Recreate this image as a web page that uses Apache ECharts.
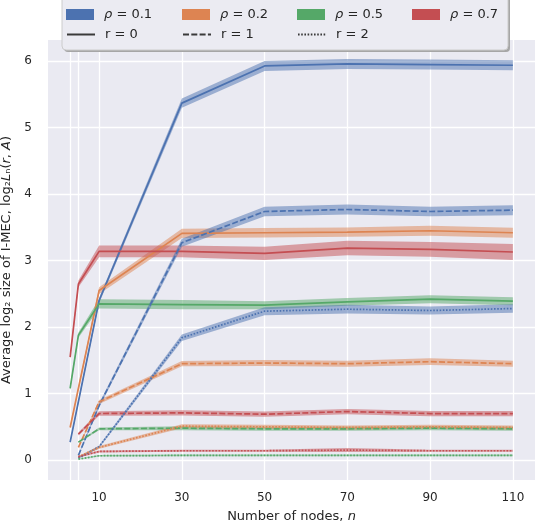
<!DOCTYPE html>
<html><head><meta charset="utf-8">
<script src="https://cdn.jsdelivr.net/npm/echarts@6/dist/echarts.min.js"></script>
<style>html,body{margin:0;padding:0;background:#fff}#c{width:536px;height:524px}</style>
</head><body><div id="c"></div>
<script>
// ---- data ----
const nodesR0 = [3, 5, 10, 30, 50, 70, 90, 110];
const nodesR1 = [5, 10, 30, 50, 70, 90, 110];
const nodesR2 = [5, 10, 30, 50, 70, 90, 110];
const xGridTicks = [3, 5, 10, 30, 50, 70, 90, 110];
const xTickLabels = [10, 30, 50, 70, 90, 110];
const yTickLabels = [0, 1, 2, 3, 4, 5, 6];
const rhoNames = ['ρ = 0.1', 'ρ = 0.2', 'ρ = 0.5', 'ρ = 0.7'];
const rNames = ['r = 0', 'r = 1', 'r = 2'];

// mean values (r = 0)
const blueR0 = [0.27, 0.88, 2.40, 5.37, 5.93, 5.96, 5.95, 5.94];
const orangeR0 = [0.49, 1.08, 2.55, 3.41, 3.42, 3.43, 3.45, 3.42];
const greenR0 = [1.08, 1.88, 2.35, 2.34, 2.33, 2.38, 2.42, 2.39];
const redR0 = [1.55, 2.65, 3.14, 3.14, 3.11, 3.19, 3.17, 3.13];
// mean values (r = 1)
const blueR1 = [0.07, 0.82, 3.27, 3.74, 3.77, 3.74, 3.76];
const orangeR1 = [0.19, 0.875, 1.45, 1.46, 1.45, 1.48, 1.45];
const greenR1 = [0.27, 0.47, 0.48, 0.47, 0.47, 0.48, 0.47];
const redR1 = [0.39, 0.70, 0.71, 0.69, 0.73, 0.70, 0.70];
// mean values (r = 2)
const blueR2 = [0.03, 0.20, 1.84, 2.24, 2.27, 2.25, 2.28];
const orangeR2 = [0.05, 0.19, 0.51, 0.50, 0.49, 0.50, 0.49];
const greenR2 = [0.015, 0.065, 0.07, 0.07, 0.07, 0.07, 0.07];
const redR2 = [0.05, 0.13, 0.14, 0.14, 0.15, 0.14, 0.14];

// confidence band half-widths
const blueR0Ci = [0.02, 0.03, 0.04, 0.07, 0.075, 0.075, 0.075, 0.075];
const orangeR0Ci = [0.02, 0.03, 0.05, 0.07, 0.07, 0.07, 0.075, 0.075];
const greenR0Ci = [0.03, 0.04, 0.07, 0.07, 0.06, 0.06, 0.06, 0.06];
const redR0Ci = [0.03, 0.05, 0.09, 0.09, 0.10, 0.11, 0.11, 0.12];
const blueR1Ci = [0.01, 0.03, 0.06, 0.07, 0.075, 0.07, 0.075];
const orangeR1Ci = [0.01, 0.03, 0.04, 0.045, 0.045, 0.05, 0.045];
const greenR1Ci = [0.01, 0.02, 0.03, 0.03, 0.03, 0.03, 0.03];
const redR1Ci = [0.02, 0.035, 0.04, 0.04, 0.04, 0.04, 0.04];
const blueR2Ci = [0.01, 0.02, 0.05, 0.06, 0.065, 0.06, 0.065];
const orangeR2Ci = [0.01, 0.02, 0.03, 0.03, 0.03, 0.03, 0.03];
const greenR2Ci = [0.005, 0.01, 0.012, 0.012, 0.012, 0.012, 0.012];
const redR2Ci = [0.01, 0.015, 0.015, 0.015, 0.03, 0.015, 0.015];

// ---- styling ----
const colors = ['#4C72B0', '#DD8452', '#55A868', '#C44E52'];
const dashTypes = ['solid', [6, 2.3], [1.6, 1.6]];
const FONT = 'DejaVu Sans';
const TXT = '#262626';

const groups = [
  { x: nodesR0, r: 0, lines: [blueR0, orangeR0, greenR0, redR0], ci: [blueR0Ci, orangeR0Ci, greenR0Ci, redR0Ci] },
  { x: nodesR1, r: 1, lines: [blueR1, orangeR1, greenR1, redR1], ci: [blueR1Ci, orangeR1Ci, greenR1Ci, redR1Ci] },
  { x: nodesR2, r: 2, lines: [blueR2, orangeR2, greenR2, redR2], ci: [blueR2Ci, orangeR2Ci, greenR2Ci, redR2Ci] }
];

function bandRenderer(xs, vals, ci, color) {
  return function (params, api) {
    if (params.dataIndex !== 0) return null;
    const upper = xs.map((x, i) => api.coord([x, vals[i] + ci[i]]));
    const lower = xs.map((x, i) => api.coord([x, vals[i] - ci[i]])).reverse();
    return {
      type: 'polygon',
      shape: { points: upper.concat(lower) },
      style: { fill: color, opacity: 0.5 }
    };
  };
}

const series = [];
groups.forEach(g => {
  g.lines.forEach((vals, h) => {
    const ci = g.ci[h];
    series.push({
      type: 'custom', silent: true, z: 1, clip: true,
      data: g.x.map((x, i) => [x, vals[i] - ci[i], vals[i] + ci[i]]),
      encode: { x: 0, y: [1, 2] },
      renderItem: bandRenderer(g.x, vals, ci, colors[h])
    });
    series.push({
      type: 'line', silent: true, symbol: 'none', z: 3,
      data: g.x.map((x, i) => [x, vals[i]]),
      lineStyle: { color: colors[h], width: 1.7, type: dashTypes[g.r] }
    });
  });
});
// legend-only series
rhoNames.forEach((n, h) => series.push({ type: 'line', name: n, data: [], symbol: 'none', color: colors[h], itemStyle: { borderWidth: 0 } }));
rNames.forEach((n, r) => series.push({ type: 'line', name: n, data: [], symbol: 'none', color: '#3a3a3a', lineStyle: { color: '#3a3a3a', width: 1.6, type: dashTypes[r] } }));

const legendRich = {
  sp: { width: 5 },
  i: { fontFamily: FONT, fontSize: 13, fontStyle: 'italic', color: TXT },
  t: { fontFamily: FONT, fontSize: 13, color: TXT }
};
const legendCols = [66, 182, 297, 412];
const legends = [];
rhoNames.forEach((n, i) => legends.push({
  data: [{ name: n, icon: 'rect' }], left: legendCols[i], top: 8, padding: 0,
  itemWidth: 28, itemHeight: 11, selectedMode: false, z: 60,
  itemStyle: { borderWidth: 0 },
  formatter: s => '{sp|}{i|ρ}{t|' + s.slice(1) + '}',
  textStyle: { fontFamily: FONT, fontSize: 13, color: TXT, rich: legendRich }
}));
rNames.forEach((n, i) => legends.push({
  data: [n], left: legendCols[i], top: 28, padding: 0,
  itemWidth: 28, itemHeight: 11, selectedMode: false, z: 60,
  itemStyle: { opacity: 0 },
  formatter: s => '{sp|}{t|' + s + '}',
  textStyle: { fontFamily: FONT, fontSize: 13, color: TXT, rich: legendRich }
}));

const option = {
  animation: false,
  backgroundColor: '#ffffff',
  grid: { left: 48, right: 1, top: 40, bottom: 44, show: true, backgroundColor: '#EAEAF2', borderWidth: 0, containLabel: false, outerBoundsMode: 'none' },
  legend: legends,
  graphic: { elements: [
    { type: 'rect', z: 50, shape: { x: 64, y: -10, width: 446, height: 62, r: 4 }, style: { fill: '#a6a6a6' } },
    { type: 'rect', z: 51, shape: { x: 62, y: -12, width: 446, height: 62, r: 4 }, style: { fill: '#EBEBF2', stroke: '#cccccc', lineWidth: 1 } }
  ] },
  xAxis: {
    type: 'value', min: -2.35, max: 115.35,
    name: '{t|Number of nodes, }{m|n}', nameLocation: 'middle', nameGap: 30,
    nameTextStyle: { rich: { t: { fontFamily: FONT, fontSize: 13, color: TXT }, m: { fontFamily: FONT, fontSize: 13, fontStyle: 'italic', color: TXT } } },
    axisLine: { show: false },
    axisTick: { show: false, customValues: xGridTicks },
    axisLabel: { customValues: xTickLabels, fontFamily: FONT, fontSize: 12, color: TXT, margin: 12 },
    splitLine: { show: true, lineStyle: { color: '#ffffff', width: 1.3 } }
  },
  yAxis: {
    type: 'value', min: -0.3, max: 6.32,
    name: '{t|Average log₂ size of I-MEC, log₂}{m|L}{t|ₙ(}{m|r}{t|, }{m|A}{t|)}',
    nameLocation: 'middle', nameGap: 26, nameRotate: 90,
    nameTextStyle: { rich: { t: { fontFamily: FONT, fontSize: 13, color: TXT }, m: { fontFamily: FONT, fontSize: 13, fontStyle: 'italic', color: TXT } } },
    axisLine: { show: false },
    axisTick: { show: false, customValues: yTickLabels },
    axisLabel: { customValues: yTickLabels, fontFamily: FONT, fontSize: 12, color: TXT, margin: 16 },
    splitLine: { show: true, lineStyle: { color: '#ffffff', width: 1.3 } }
  },
  series: series
};
const chart = echarts.init(document.getElementById('c'), null, { renderer: 'canvas' });
chart.setOption(option);
</script></body></html>
